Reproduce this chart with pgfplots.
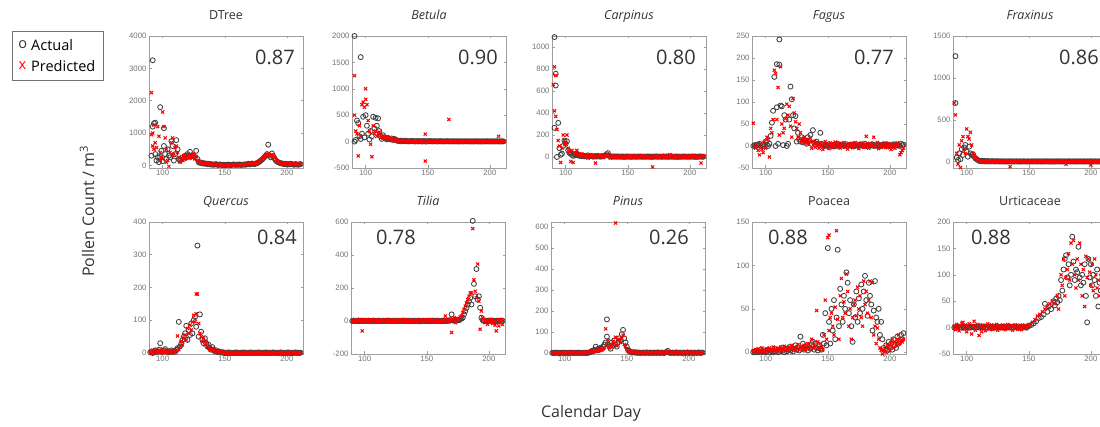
\documentclass[border=0pt]{standalone}
\usepackage{pgfplots}
\pgfplotsset{compat=1.18}
\usepackage{fontspec}
\setmainfont{Open Sans}
\newfontfamily\tickfont{Liberation Sans}
\definecolor{axgray}{gray}{0.62}
\definecolor{tkgray}{gray}{0.45}
\definecolor{txtgray}{gray}{0.2}
\pgfplotsset{
  panel/.style={
    scale only axis, width=154pt, height=132pt,
    xmin=89, xmax=213, xtick={100,150,200},
    axis line style={axgray, line width=0.6pt},
    every tick/.style={axgray, line width=0.5pt},
    major tick length=2.5pt,
    tick label style={font=\tickfont\fontsize{7.8}{8}\selectfont, text=tkgray},
    /pgf/number format/assume math mode=true,
    /pgf/number format/1000 sep={},
    scaled y ticks=false,
    yticklabel style={xshift=1pt},
    xticklabel style={yshift=1pt},
    title style={at={(0.5,1)}, anchor=base, yshift=10pt, font=\fontsize{12.5}{14}\selectfont, text=txtgray},
    clip=false,
  },
  act/.style={only marks, mark=o, mark size=2.5pt, draw=black!75, line width=0.85pt, mark options={draw=black!75}},
  prd/.style={only marks, mark=x, mark size=2.2pt, draw=red, line width=1.05pt, mark options={draw=red}},
}
\newcommand{\rsq}[3]{\node[anchor=#2, inner sep=0pt, font=\fontsize{20}{22}\selectfont, text=txtgray] at (rel axis cs:#1) {#3};}
\begin{document}
\begin{tikzpicture}
\useasboundingbox (0pt,0pt) rectangle (1100pt,427pt);
\clip (0pt,0pt) rectangle (1100pt,427pt);
% ---------------- DTree
\begin{axis}[panel, at={(149pt,259pt)}, anchor=south west, title={DTree},
  ymin=-80, ymax=4000, ytick={0,1000,2000,3000,4000},
  legend style={at={(-0.89,1.038)}, anchor=north west, draw=black!55, line width=1pt,
    font=\fontsize{14.5}{16}\selectfont, inner xsep=6pt, inner ysep=6pt, row sep=4pt,
    cells={anchor=west}, column sep=2pt}]
\addplot[act, legend image code/.code={\node[inner sep=0pt, anchor=west, text=black!80, font=\fontsize{14.5}{16}\selectfont] at (0,0) {o};}] coordinates {(91,300)(92,3250)(92,1200)(93,1300)(94,1320)(94,350)(95,150)(96,250)(97,100)(98,1800)(98,260)(99,450)(100,130)(101,1150)(101,600)(102,350)(103,200)(104,500)(105,300)(106,250)(107,750)(108,600)(109,150)(110,350)(111,780)(112,500)(113,200)(114,150)(115,180)(116,250)(117,200)(118,300)(119,250)(120,350)(121,300)(122,420)(123,280)(124,320)(125,300)(126,250)(127,450)(128,200)(129,100)(130,80)(131,90)(132,60)(133,70)(134,50)(135,60)(136,40)(137,50)(138,30)(139,40)(140,20)(141,30)(142,25)(143,40)(144,20)(145,15)(146,30)(147,20)(148,10)(149,20)(150,15)(151,10)(152,20)(153,25)(154,15)(155,10)(156,20)(157,30)(158,20)(159,15)(160,25)(161,20)(162,30)(163,15)(164,20)(165,25)(166,30)(167,20)(168,40)(169,50)(170,30)(171,40)(172,60)(173,50)(174,40)(175,60)(176,70)(177,90)(178,120)(179,150)(180,180)(181,220)(182,260)(183,300)(184,350)(185,640)(186,300)(187,250)(188,370)(189,280)(190,220)(191,160)(192,120)(193,100)(194,80)(195,70)(196,60)(197,50)(198,40)(199,50)(200,30)(201,40)(202,30)(203,50)(204,40)(205,30)(206,20)(207,40)(208,30)(209,20)(210,30)(211,40)};
\addlegendentry{Actual}
\addplot[prd, legend image code/.code={\node[inner sep=0pt, anchor=west, text=red, font=\fontsize{14.5}{16}\selectfont] at (0,0) {x};}] coordinates {(91,2250)(91,950)(92,1000)(92,600)(93,1250)(93,500)(94,700)(95,550)(96,1200)(97,900)(98,400)(98,150)(99,250)(100,1650)(100,200)(101,1200)(102,850)(103,500)(103,100)(104,150)(105,-30)(106,400)(107,700)(108,850)(108,300)(109,350)(110,550)(111,600)(112,400)(113,250)(114,100)(115,200)(116,180)(117,300)(118,200)(119,280)(120,250)(121,330)(122,220)(123,300)(124,250)(125,350)(126,200)(127,280)(128,150)(129,120)(130,100)(131,80)(132,90)(133,60)(134,70)(135,50)(136,60)(137,40)(138,50)(139,30)(140,40)(141,20)(142,35)(143,30)(144,25)(145,20)(146,25)(147,15)(148,20)(149,15)(150,10)(151,20)(152,15)(153,20)(154,10)(155,15)(156,20)(157,25)(158,15)(159,20)(160,20)(161,25)(162,20)(163,20)(164,25)(165,20)(166,35)(167,30)(168,40)(169,45)(170,40)(171,50)(172,55)(173,60)(174,55)(175,70)(176,80)(177,110)(178,140)(179,170)(180,200)(181,240)(182,280)(183,310)(184,330)(185,360)(186,330)(187,300)(188,330)(189,300)(190,240)(191,180)(192,140)(193,110)(194,90)(195,70)(196,60)(197,55)(198,50)(199,45)(200,40)(201,45)(202,35)(203,40)(204,45)(205,35)(206,30)(207,40)(208,35)(209,30)(210,35)(211,40)};
\addlegendentry{Predicted}
\rsq{0.948,0.84}{east}{0.87}
\end{axis}
% ---------------- Betula
\begin{axis}[panel, at={(352pt,259pt)}, anchor=south west, title={\itshape Betula},
  ymin=-500, ymax=2000, ytick={-500,0,500,1000,1500,2000}]
\addplot[act] coordinates {(91,2000)(91,0)(92,30)(93,400)(94,350)(95,100)(96,1600)(96,50)(97,150)(98,470)(99,80)(100,500)(101,300)(102,150)(103,40)(104,200)(105,100)(106,470)(107,250)(108,450)(109,300)(110,440)(111,200)(112,100)(113,50)(114,120)(115,80)(116,60)(117,40)(118,70)(119,50)(120,40)(121,60)(122,30)(123,50)(124,40)(125,20)(126,15)(127,10)(128,20)(129,5)(130,12)(131,8)(132,15)(133,5)(134,10)(135,3)(136,8)(137,12)(138,5)(139,10)(140,2)(141,6)(142,10)(143,4)(144,8)(145,3)(146,5)(147,10)(148,6)(149,2)(150,8)(151,4)(152,10)(153,5)(154,3)(155,8)(156,4)(157,6)(158,2)(159,5)(160,8)(161,3)(162,5)(163,2)(164,6)(165,4)(166,8)(167,3)(168,5)(169,2)(170,6)(171,4)(172,3)(173,7)(174,2)(175,5)(176,3)(177,6)(178,2)(179,4)(180,5)(181,3)(182,6)(183,2)(184,4)(185,3)(186,5)(187,2)(188,4)(189,6)(190,3)(191,5)(192,2)(193,4)(194,3)(195,5)(196,2)(197,4)(198,6)(199,3)(200,2)(201,5)(202,3)(203,4)(204,2)(205,6)(206,3)(207,4)(208,2)(209,5)(210,3)(211,4)};
\addplot[prd] coordinates {(91,1250)(91,500)(92,200)(93,150)(94,-270)(95,300)(96,100)(97,700)(98,750)(99,650)(100,1000)(100,800)(101,700)(102,400)(103,200)(104,-50)(105,-285)(106,300)(107,150)(108,200)(109,100)(110,150)(111,180)(112,120)(113,90)(114,60)(115,100)(116,80)(117,90)(118,60)(119,70)(120,40)(121,50)(122,30)(123,45)(124,20)(125,35)(126,10)(127,25)(128,15)(129,-10)(130,20)(131,5)(132,15)(133,-5)(134,10)(135,20)(136,0)(137,15)(138,-10)(139,10)(140,5)(141,-15)(142,10)(143,0)(144,15)(145,-5)(146,10)(147,-20)(148,140)(148,-370)(149,5)(150,-10)(151,10)(152,0)(153,15)(154,-5)(155,5)(156,10)(157,-10)(158,5)(159,0)(160,10)(161,-5)(162,5)(163,15)(164,0)(165,-10)(166,5)(167,420)(168,10)(169,-5)(170,5)(171,0)(172,10)(173,-5)(174,5)(175,10)(176,0)(177,-10)(178,5)(179,10)(180,0)(181,-5)(182,10)(183,5)(184,0)(185,-10)(186,5)(187,15)(188,0)(189,-5)(190,10)(191,5)(192,0)(193,-10)(194,5)(195,10)(196,0)(197,-5)(198,5)(199,15)(200,0)(201,-5)(202,10)(203,5)(204,-10)(205,0)(206,10)(207,100)(208,5)(209,-5)(210,10)(211,0)};
\rsq{0.948,0.84}{east}{0.90}
\end{axis}
% ---------------- Carpinus
\begin{axis}[panel, at={(552pt,259pt)}, anchor=south west, title={\itshape Carpinus},
  ymin=-100, ymax=1100, ytick={0,200,400,600,800,1000}]
\addplot[act] coordinates {(91,1090)(91,265)(92,650)(92,757)(93,0)(94,310)(95,80)(96,20)(97,30)(98,100)(99,150)(100,120)(101,143)(102,60)(103,40)(104,30)(105,20)(106,10)(107,25)(108,15)(109,30)(110,20)(111,10)(112,15)(113,8)(114,12)(115,5)(116,10)(117,6)(118,15)(119,4)(120,8)(121,10)(122,3)(123,6)(124,8)(125,4)(126,10)(127,5)(128,3)(129,8)(130,6)(131,10)(132,15)(133,25)(134,35)(135,10)(136,5)(137,3)(138,6)(139,2)(140,5)(141,3)(142,6)(143,2)(144,4)(145,3)(146,5)(147,2)(148,4)(149,3)(150,5)(151,2)(152,4)(153,3)(154,2)(155,5)(156,3)(157,2)(158,4)(159,3)(160,5)(161,2)(162,3)(163,4)(164,2)(165,3)(166,5)(167,2)(168,4)(169,3)(170,2)(171,4)(172,3)(173,5)(174,2)(175,3)(176,4)(177,2)(178,3)(179,5)(180,2)(181,4)(182,3)(183,2)(184,5)(185,3)(186,4)(187,2)(188,3)(189,5)(190,2)(191,4)(192,3)(193,2)(194,4)(195,3)(196,5)(197,2)(198,3)(199,4)(200,2)(201,3)(202,5)(203,2)(204,4)(205,3)(206,2)(207,4)(208,3)(209,5)(210,2)(211,3)};
\addplot[prd] coordinates {(90,660)(91,820)(91,420)(92,740)(92,370)(93,250)(94,150)(95,100)(96,-50)(97,80)(98,200)(99,150)(100,120)(101,200)(102,80)(103,50)(104,-40)(105,60)(106,-50)(107,40)(108,30)(109,60)(110,20)(111,25)(112,15)(113,30)(114,10)(115,20)(116,5)(117,15)(118,-10)(119,10)(120,20)(121,5)(122,15)(123,-5)(124,-55)(125,10)(126,5)(127,15)(128,0)(129,10)(130,-5)(131,5)(132,15)(133,10)(134,20)(135,5)(136,-10)(137,5)(138,10)(139,0)(140,-5)(141,10)(142,5)(143,-5)(144,10)(145,0)(146,5)(147,-10)(148,5)(149,10)(150,0)(151,-5)(152,5)(153,10)(154,-5)(155,0)(156,5)(157,10)(158,-5)(159,5)(160,0)(161,10)(162,-5)(163,5)(164,0)(165,10)(166,-5)(167,5)(168,0)(169,-10)(170,-90)(171,5)(172,0)(173,10)(174,-5)(175,5)(176,0)(177,10)(178,-5)(179,5)(180,15)(181,0)(182,-5)(183,10)(184,20)(185,5)(186,-5)(187,10)(188,0)(189,5)(190,-10)(191,5)(192,10)(193,0)(194,-5)(195,5)(196,10)(197,0)(198,-5)(199,5)(200,10)(201,0)(202,-5)(203,15)(204,5)(205,-10)(206,5)(207,10)(208,0)(209,-55)(210,5)(211,10)};
\rsq{0.935,0.84}{east}{0.80}
\end{axis}
% ---------------- Fagus
\begin{axis}[panel, at={(752pt,259pt)}, anchor=south west, title={\itshape Fagus},
  ymin=-50, ymax=250, ytick={-50,0,50,100,150,200,250}]
\addplot[act] coordinates {(90,0)(91,2)(92,0)(93,3)(94,1)(95,5)(96,0)(97,2)(98,4)(99,0)(100,10)(101,3)(102,0)(103,5)(104,23)(105,53)(106,80)(107,157)(108,0)(109,186)(109,88)(110,5)(111,242)(111,185)(112,92)(113,90)(114,2)(115,70)(116,60)(117,0)(118,5)(119,60)(120,135)(121,106)(122,70)(123,40)(124,68)(125,10)(126,30)(127,15)(128,10)(129,20)(130,8)(131,15)(132,10)(133,5)(134,20)(135,12)(136,25)(137,5)(138,36)(139,8)(140,3)(141,10)(142,5)(143,2)(144,30)(145,5)(146,2)(147,0)(148,3)(149,1)(150,0)(151,4)(152,2)(153,0)(154,1)(155,3)(156,0)(157,2)(158,5)(159,1)(160,0)(161,3)(162,2)(163,0)(164,1)(165,4)(166,0)(167,2)(168,1)(169,3)(170,0)(171,2)(172,0)(173,4)(174,1)(175,0)(176,3)(177,2)(178,0)(179,1)(180,5)(181,0)(182,2)(183,1)(184,0)(185,3)(186,4)(187,0)(188,1)(189,2)(190,0)(191,3)(192,1)(193,0)(194,2)(195,4)(196,1)(197,0)(198,3)(199,2)(200,0)(201,1)(202,2)(203,4)(204,0)(205,3)(206,1)(207,2)(208,0)(209,5)(210,2)(211,3)};
\addplot[prd] coordinates {(90,52)(91,0)(92,-5)(93,3)(94,-10)(95,-20)(96,5)(97,-8)(98,-15)(99,10)(100,-5)(101,20)(102,15)(103,-25)(104,40)(105,30)(106,60)(107,172)(108,165)(109,60)(110,133)(111,25)(112,180)(113,50)(114,30)(115,40)(116,62)(117,95)(118,70)(119,90)(120,45)(121,20)(122,108)(123,75)(124,55)(125,40)(126,20)(127,50)(128,30)(129,10)(130,15)(131,20)(132,8)(133,15)(134,5)(135,10)(136,18)(137,-5)(138,10)(139,5)(140,-3)(141,8)(142,2)(143,-5)(144,6)(145,0)(146,-8)(147,4)(148,10)(149,-2)(150,3)(151,-6)(152,7)(153,1)(154,-4)(155,5)(156,9)(157,-3)(158,2)(159,6)(160,-5)(161,0)(162,4)(163,8)(164,-2)(165,3)(166,-7)(167,5)(168,1)(169,6)(170,-4)(171,2)(172,8)(173,-1)(174,4)(175,-6)(176,3)(177,7)(178,0)(179,-3)(180,5)(181,22)(182,2)(183,-5)(184,6)(185,1)(186,4)(187,20)(188,-2)(189,4)(190,8)(191,-6)(192,3)(193,0)(194,5)(195,-3)(196,7)(197,2)(198,-4)(199,6)(200,1)(201,-8)(202,4)(203,3)(204,-5)(205,2)(206,7)(207,0)(208,-20)(209,-15)(210,-10)(211,-5)};
\rsq{0.922,0.84}{east}{0.77}
\end{axis}
% ---------------- Fraxinus
\begin{axis}[panel, at={(953pt,259pt)}, anchor=south west, title={\itshape Fraxinus},
  ymin=-75, ymax=1500, ytick={0,500,1000,1500}]
\addplot[act] coordinates {(91,1260)(91,700)(92,50)(93,20)(94,100)(95,30)(96,150)(97,80)(98,170)(99,200)(100,120)(101,60)(102,180)(103,100)(104,80)(105,90)(106,60)(107,40)(108,30)(109,20)(110,10)(111,8)(112,12)(113,5)(114,10)(115,3)(116,6)(117,8)(118,2)(119,5)(120,4)(121,7)(122,2)(123,5)(124,3)(125,6)(126,2)(127,4)(128,3)(129,5)(130,2)(131,4)(132,3)(133,2)(134,5)(135,3)(136,2)(137,4)(138,3)(139,2)(140,5)(141,3)(142,2)(143,4)(144,3)(145,2)(146,5)(147,3)(148,2)(149,4)(150,3)(151,2)(152,4)(153,3)(154,2)(155,5)(156,3)(157,2)(158,4)(159,3)(160,2)(161,4)(162,3)(163,2)(164,5)(165,3)(166,2)(167,4)(168,3)(169,2)(170,4)(171,3)(172,2)(173,5)(174,3)(175,2)(176,4)(177,3)(178,2)(179,4)(180,3)(181,2)(182,5)(183,3)(184,2)(185,4)(186,3)(187,2)(188,4)(189,3)(190,2)(191,5)(192,3)(193,2)(194,4)(195,3)(196,2)(197,4)(198,3)(199,2)(200,5)(201,3)(202,2)(203,4)(204,3)(205,2)(206,4)(207,3)(208,2)(209,5)(210,3)(211,2)};
\addplot[prd] coordinates {(90,700)(91,560)(92,100)(93,-30)(94,200)(95,-70)(96,250)(97,300)(98,150)(99,100)(100,390)(101,300)(102,270)(103,350)(104,200)(105,100)(106,80)(107,50)(108,30)(109,20)(110,10)(111,15)(112,-5)(113,10)(114,0)(115,8)(116,-10)(117,5)(118,12)(119,-5)(120,8)(121,0)(122,10)(123,-8)(124,5)(125,0)(126,10)(127,-5)(128,5)(129,8)(130,-10)(131,5)(132,0)(133,10)(134,-5)(135,-60)(136,5)(137,0)(138,8)(139,-5)(140,10)(141,0)(142,-8)(143,5)(144,10)(145,0)(146,-5)(147,8)(148,0)(149,5)(150,-10)(151,5)(152,10)(153,0)(154,-5)(155,5)(156,8)(157,0)(158,-5)(159,10)(160,0)(161,5)(162,-8)(163,5)(164,0)(165,10)(166,-5)(167,5)(168,0)(169,-10)(170,5)(171,10)(172,0)(173,-5)(174,5)(175,8)(176,0)(177,-5)(178,10)(179,0)(180,-30)(181,5)(182,0)(183,10)(184,-5)(185,5)(186,0)(187,8)(188,-5)(189,5)(190,10)(191,0)(192,-5)(193,5)(194,0)(195,10)(196,-8)(197,5)(198,0)(199,5)(200,-40)(201,5)(202,10)(203,0)(204,-5)(205,5)(206,10)(207,0)(208,-5)(209,5)(210,0)(211,8)};
\rsq{0.948,0.84}{east}{0.86}
\end{axis}
% ---------------- Quercus
\begin{axis}[panel, at={(149pt,73pt)}, anchor=south west, title={\itshape Quercus},
  ymin=-3, ymax=400, ytick={0,100,200,300,400}]
\addplot[act] coordinates {(90,2)(91,5)(92,0)(93,3)(94,8)(95,2)(96,5)(97,10)(98,30)(99,5)(100,3)(101,8)(102,12)(103,4)(104,6)(105,2)(106,5)(107,8)(108,3)(109,6)(110,4)(111,10)(112,15)(113,95)(114,20)(115,30)(116,40)(117,50)(118,60)(119,83)(120,40)(121,70)(122,55)(123,90)(124,60)(125,100)(126,110)(127,80)(128,328)(129,50)(130,118)(131,65)(132,40)(133,30)(134,45)(135,30)(136,20)(137,25)(138,15)(139,10)(140,18)(141,10)(142,5)(143,8)(144,3)(145,5)(146,2)(147,3)(148,1)(149,2)(150,0)(151,1)(152,0)(153,2)(154,0)(155,1)(156,0)(157,1)(158,0)(159,2)(160,0)(161,1)(162,0)(163,1)(164,0)(165,2)(166,0)(167,1)(168,0)(169,1)(170,0)(171,2)(172,0)(173,1)(174,0)(175,1)(176,0)(177,2)(178,0)(179,1)(180,0)(181,1)(182,0)(183,2)(184,0)(185,1)(186,0)(187,1)(188,0)(189,2)(190,0)(191,1)(192,0)(193,1)(194,0)(195,2)(196,0)(197,1)(198,0)(199,1)(200,0)(201,2)(202,0)(203,1)(204,0)(205,1)(206,0)(207,2)(208,0)(209,1)(210,0)(211,1)};
\addplot[prd] coordinates {(90,4)(91,0)(92,6)(93,2)(94,5)(95,10)(96,3)(97,0)(98,8)(99,4)(100,12)(101,2)(102,5)(103,9)(104,1)(105,4)(106,7)(107,3)(108,6)(109,2)(110,8)(111,5)(112,52)(113,10)(114,20)(115,35)(116,25)(117,45)(118,55)(119,40)(120,75)(121,60)(122,85)(123,70)(124,95)(125,115)(126,95)(127,180)(127,120)(128,180)(129,90)(130,60)(131,50)(132,35)(133,45)(134,25)(135,35)(136,20)(137,15)(138,10)(139,12)(140,8)(141,10)(142,5)(143,6)(144,3)(145,4)(146,2)(147,3)(148,1)(149,2)(150,1)(151,0)(152,2)(153,1)(154,0)(155,1)(156,2)(157,0)(158,1)(159,0)(160,2)(161,1)(162,0)(163,1)(164,2)(165,0)(166,1)(167,0)(168,2)(169,1)(170,0)(171,1)(172,2)(173,0)(174,1)(175,0)(176,2)(177,1)(178,0)(179,1)(180,2)(181,0)(182,1)(183,0)(184,2)(185,1)(186,0)(187,1)(188,2)(189,0)(190,1)(191,0)(192,2)(193,1)(194,0)(195,1)(196,2)(197,0)(198,1)(199,0)(200,2)(201,1)(202,0)(203,1)(204,2)(205,0)(206,1)(207,0)(208,2)(209,1)(210,0)(211,1)};
\rsq{0.961,0.886}{east}{0.84}
\end{axis}
% ---------------- Tilia
\begin{axis}[panel, at={(351pt,73pt)}, anchor=south west, title={\itshape Tilia},
  ymin=-200, ymax=600, ytick={-200,0,200,400,600}]
\addplot[act] coordinates {(90,0)(91,2)(92,0)(93,1)(94,0)(95,3)(96,0)(97,1)(98,0)(99,2)(100,0)(101,1)(102,0)(103,2)(104,0)(105,1)(106,0)(107,3)(108,0)(109,1)(110,0)(111,2)(112,0)(113,1)(114,0)(115,2)(116,0)(117,1)(118,0)(119,3)(120,0)(121,1)(122,0)(123,2)(124,0)(125,1)(126,0)(127,2)(128,0)(129,1)(130,0)(131,3)(132,0)(133,1)(134,0)(135,2)(136,0)(137,1)(138,0)(139,2)(140,0)(141,1)(142,0)(143,3)(144,0)(145,1)(146,0)(147,2)(148,0)(149,1)(150,0)(151,2)(152,0)(153,1)(154,0)(155,3)(156,0)(157,1)(158,0)(159,2)(160,0)(161,1)(162,0)(163,2)(164,0)(165,1)(166,0)(167,3)(168,2)(169,5)(170,40)(171,4)(172,3)(173,6)(174,2)(175,8)(176,5)(177,10)(178,15)(179,20)(180,40)(181,60)(182,80)(183,100)(184,120)(185,140)(186,100)(187,607)(188,225)(189,150)(190,315)(191,130)(192,150)(193,80)(194,20)(195,5)(196,0)(197,2)(198,0)(199,1)(200,3)(201,0)(202,2)(203,0)(204,1)(205,0)(206,2)(207,0)(208,1)(209,3)(210,0)(211,2)};
\addplot[prd] coordinates {(90,5)(91,-5)(92,8)(93,0)(94,-8)(95,4)(96,10)(97,-3)(98,-60)(99,6)(100,-6)(101,2)(102,9)(103,-4)(104,5)(105,-9)(106,3)(107,7)(108,-2)(109,4)(110,-7)(111,8)(112,0)(113,-5)(114,6)(115,2)(116,-8)(117,5)(118,9)(119,-3)(120,1)(121,6)(122,-6)(123,4)(124,8)(125,-2)(126,3)(127,-7)(128,5)(129,0)(130,7)(131,-4)(132,2)(133,9)(134,-5)(135,4)(136,-8)(137,6)(138,1)(139,-3)(140,8)(141,0)(142,-6)(143,5)(144,3)(145,-9)(146,7)(147,2)(148,-4)(149,6)(150,-1)(151,4)(152,9)(153,-7)(154,3)(155,0)(156,6)(157,-5)(158,8)(159,2)(160,-3)(161,5)(162,-8)(163,7)(164,1)(165,30)(166,-4)(167,6)(168,-6)(169,10)(170,-70)(171,8)(172,20)(173,-10)(174,12)(175,5)(176,15)(177,25)(178,30)(179,50)(180,70)(181,90)(182,110)(183,130)(184,150)(185,170)(186,170)(187,560)(188,250)(189,180)(190,140)(191,345)(192,120)(193,-50)(194,60)(195,20)(196,10)(197,-10)(198,5)(199,-20)(200,8)(201,-5)(202,10)(203,-15)(204,0)(205,-25)(206,-60)(207,5)(208,-30)(209,-10)(210,8)(211,-20)};
\rsq{0.162,0.886}{west}{0.78}
\end{axis}
% ---------------- Pinus
\begin{axis}[panel, at={(551pt,73pt)}, anchor=south west, title={\itshape Pinus},
  ymin=-5, ymax=625, ytick={0,100,200,300,400,500,600}]
\addplot[act] coordinates {(90,0)(91,1)(92,0)(93,2)(94,0)(95,1)(96,0)(97,1)(98,0)(99,2)(100,0)(101,1)(102,0)(103,1)(104,0)(105,2)(106,0)(107,1)(108,0)(109,1)(110,0)(111,2)(112,0)(113,1)(114,0)(115,1)(116,0)(117,2)(118,0)(119,1)(120,3)(121,5)(122,10)(123,8)(124,15)(125,30)(126,12)(127,20)(128,15)(129,25)(130,20)(131,30)(132,40)(133,50)(134,160)(134,78)(135,40)(136,30)(137,20)(138,50)(139,35)(140,60)(141,40)(142,30)(143,50)(144,70)(145,60)(146,90)(147,110)(148,70)(149,50)(150,30)(151,15)(152,10)(153,5)(154,3)(155,2)(156,4)(157,1)(158,3)(159,0)(160,2)(161,1)(162,0)(163,2)(164,1)(165,0)(166,3)(167,1)(168,0)(169,2)(170,1)(171,0)(172,2)(173,1)(174,0)(175,3)(176,1)(177,0)(178,2)(179,1)(180,0)(181,2)(182,4)(183,10)(184,2)(185,0)(186,1)(187,2)(188,0)(189,1)(190,3)(191,0)(192,1)(193,2)(194,0)(195,1)(196,2)(197,0)(198,1)(199,3)(200,0)(201,1)(202,2)(203,0)(204,1)(205,2)(206,0)(207,1)(208,3)(209,0)(210,1)(211,2)};
\addplot[prd] coordinates {(90,2)(91,0)(92,3)(93,1)(94,0)(95,2)(96,1)(97,3)(98,0)(99,2)(100,1)(101,0)(102,3)(103,1)(104,2)(105,0)(106,1)(107,3)(108,0)(109,2)(110,1)(111,0)(112,3)(113,1)(114,2)(115,0)(116,4)(117,2)(118,5)(119,3)(120,6)(121,4)(122,8)(123,5)(124,10)(125,12)(126,8)(127,10)(128,15)(129,12)(130,15)(131,20)(132,25)(133,115)(134,40)(135,60)(136,25)(137,40)(138,30)(139,55)(140,45)(141,620)(141,75)(142,35)(143,60)(144,65)(145,50)(146,70)(147,85)(148,40)(149,30)(150,20)(151,10)(152,8)(153,5)(154,4)(155,3)(156,5)(157,2)(158,4)(159,1)(160,3)(161,2)(162,0)(163,3)(164,1)(165,2)(166,4)(167,0)(168,2)(169,3)(170,1)(171,2)(172,0)(173,3)(174,1)(175,2)(176,4)(177,1)(178,0)(179,3)(180,2)(181,1)(182,4)(183,6)(184,3)(185,1)(186,2)(187,0)(188,3)(189,1)(190,2)(191,4)(192,0)(193,2)(194,1)(195,3)(196,0)(197,2)(198,1)(199,4)(200,2)(201,0)(202,3)(203,1)(204,2)(205,0)(206,3)(207,1)(208,2)(209,4)(210,0)(211,2)};
\rsq{0.896,0.886}{east}{0.26}
\end{axis}
% ---------------- Poacea
\begin{axis}[panel, at={(752pt,73pt)}, anchor=south west, title={Poacea},
  ymin=-2, ymax=150, ytick={0,50,100,150}]
\addplot[act] coordinates {(90,0)(91,1)(92,0)(93,2)(94,0)(95,1)(96,3)(97,0)(98,1)(99,2)(100,0)(101,1)(102,3)(103,0)(104,2)(105,1)(106,0)(107,4)(108,1)(109,2)(110,0)(111,3)(112,1)(113,5)(114,2)(115,0)(116,4)(117,1)(118,3)(119,6)(120,2)(121,5)(122,1)(123,4)(124,8)(125,3)(126,6)(127,2)(128,18)(129,4)(130,10)(131,3)(132,6)(133,8)(134,2)(135,6)(136,4)(137,9)(138,12)(139,3)(140,10)(141,5)(142,2)(143,8)(144,4)(145,3)(146,20)(147,10)(148,45)(149,8)(150,120)(151,35)(152,10)(153,50)(154,25)(155,60)(156,15)(157,40)(158,118)(159,30)(160,73)(161,55)(162,35)(163,65)(164,50)(165,92)(166,80)(167,45)(168,60)(169,30)(170,12)(171,55)(172,40)(173,70)(174,35)(175,62)(176,45)(177,78)(178,50)(179,70)(180,88)(181,60)(182,42)(183,80)(184,65)(185,55)(186,25)(187,48)(188,82)(189,40)(190,35)(191,50)(192,20)(193,35)(194,15)(195,5)(196,3)(197,8)(198,2)(199,12)(200,5)(201,10)(202,3)(203,15)(204,8)(205,5)(206,18)(207,10)(208,12)(209,20)(210,15)(211,22)};
\addplot[prd] coordinates {(90,2)(91,0)(92,3)(93,1)(94,4)(95,0)(96,2)(97,5)(98,1)(99,3)(100,0)(101,4)(102,2)(103,5)(104,1)(105,3)(106,6)(107,2)(108,4)(109,1)(110,5)(111,3)(112,6)(113,2)(114,4)(115,7)(116,3)(117,5)(118,2)(119,6)(120,4)(121,8)(122,3)(123,5)(124,2)(125,6)(126,9)(127,3)(128,5)(129,7)(130,4)(131,8)(132,3)(133,6)(134,10)(135,4)(136,7)(137,15)(138,5)(139,8)(140,6)(141,48)(142,12)(143,4)(144,10)(145,6)(146,3)(147,20)(148,60)(149,15)(150,132)(151,135)(151,25)(152,40)(153,45)(154,30)(155,20)(156,52)(157,140)(158,38)(159,15)(160,65)(161,85)(162,40)(163,58)(164,45)(165,90)(166,70)(167,30)(168,50)(169,15)(170,40)(171,55)(172,60)(173,42)(174,75)(175,50)(176,65)(177,40)(178,30)(179,82)(180,55)(181,70)(182,45)(183,60)(184,82)(185,40)(186,80)(187,20)(188,30)(189,10)(190,28)(191,15)(192,5)(193,2)(194,-2)(195,3)(196,1)(197,0)(198,8)(199,5)(200,2)(201,10)(202,15)(203,5)(204,12)(205,8)(206,15)(207,20)(208,10)(209,14)(210,12)(211,15)};
\rsq{0.104,0.886}{west}{0.88}
\end{axis}
% ---------------- Urticaceae
\begin{axis}[panel, at={(953pt,73pt)}, anchor=south west, title={Urticaceae},
  ymin=-50, ymax=200, ytick={-50,0,50,100,150,200}]
\addplot[act] coordinates {(90,0)(91,1)(92,0)(93,2)(94,0)(95,1)(96,0)(97,2)(98,1)(99,0)(100,2)(101,0)(102,1)(103,0)(104,2)(105,1)(106,0)(107,2)(108,0)(109,1)(110,0)(111,2)(112,1)(113,0)(114,2)(115,0)(116,1)(117,0)(118,2)(119,1)(120,0)(121,2)(122,0)(123,1)(124,0)(125,2)(126,1)(127,0)(128,2)(129,0)(130,1)(131,0)(132,2)(133,1)(134,0)(135,2)(136,0)(137,1)(138,0)(139,2)(140,1)(141,0)(142,2)(143,0)(144,1)(145,0)(146,2)(147,1)(148,0)(149,2)(150,3)(152,5)(154,8)(156,12)(158,18)(160,20)(162,25)(163,45)(165,30)(166,40)(168,35)(170,50)(171,42)(172,55)(173,48)(174,60)(175,52)(176,90)(177,70)(178,110)(179,130)(180,137)(181,95)(182,120)(183,80)(184,100)(185,172)(186,125)(187,90)(188,110)(189,105)(190,153)(191,95)(192,80)(193,100)(194,85)(195,120)(196,60)(197,10)(198,130)(199,95)(200,120)(201,80)(202,100)(203,90)(204,60)(205,110)(206,40)(207,85)(208,70)(209,100)(210,60)(211,90)};
\addplot[prd] coordinates {(90,3)(91,-4)(92,6)(93,0)(94,-6)(95,4)(96,8)(97,10)(98,-3)(99,5)(100,-8)(101,2)(102,7)(103,-2)(104,-12)(105,4)(106,12)(107,-5)(108,3)(109,6)(110,-15)(111,2)(112,-8)(113,5)(114,0)(115,-6)(116,4)(117,7)(118,-3)(119,2)(120,5)(121,-4)(122,3)(123,0)(124,6)(125,-5)(126,2)(127,4)(128,-2)(129,5)(130,0)(131,-4)(132,3)(133,6)(134,-2)(135,1)(136,4)(137,-5)(138,2)(139,5)(140,0)(141,-3)(142,4)(143,2)(144,-4)(145,5)(146,1)(147,3)(148,-2)(149,4)(150,6)(151,5)(153,10)(155,15)(157,22)(159,25)(161,30)(163,35)(165,40)(167,45)(169,50)(171,45)(173,60)(174,35)(176,100)(177,80)(178,130)(179,60)(180,95)(181,110)(182,140)(183,90)(184,160)(185,120)(186,165)(187,100)(188,75)(189,130)(190,90)(191,160)(192,120)(193,60)(194,110)(195,40)(196,135)(197,95)(198,130)(199,105)(200,80)(201,120)(202,70)(203,130)(204,100)(205,75)(206,90)(207,60)(208,110)(209,70)(210,95)(211,80)};
\rsq{0.117,0.886}{west}{0.88}
\end{axis}
% ---------------- common labels
\node[rotate=90, font=\fontsize{16}{18}\selectfont, text=txtgray] at (87pt,216pt) {Pollen Count / m\textsuperscript{3}};
\node[font=\fontsize{16}{18}\selectfont, text=txtgray] at (591pt,14pt) {Calendar Day};
\end{tikzpicture}
\end{document}
